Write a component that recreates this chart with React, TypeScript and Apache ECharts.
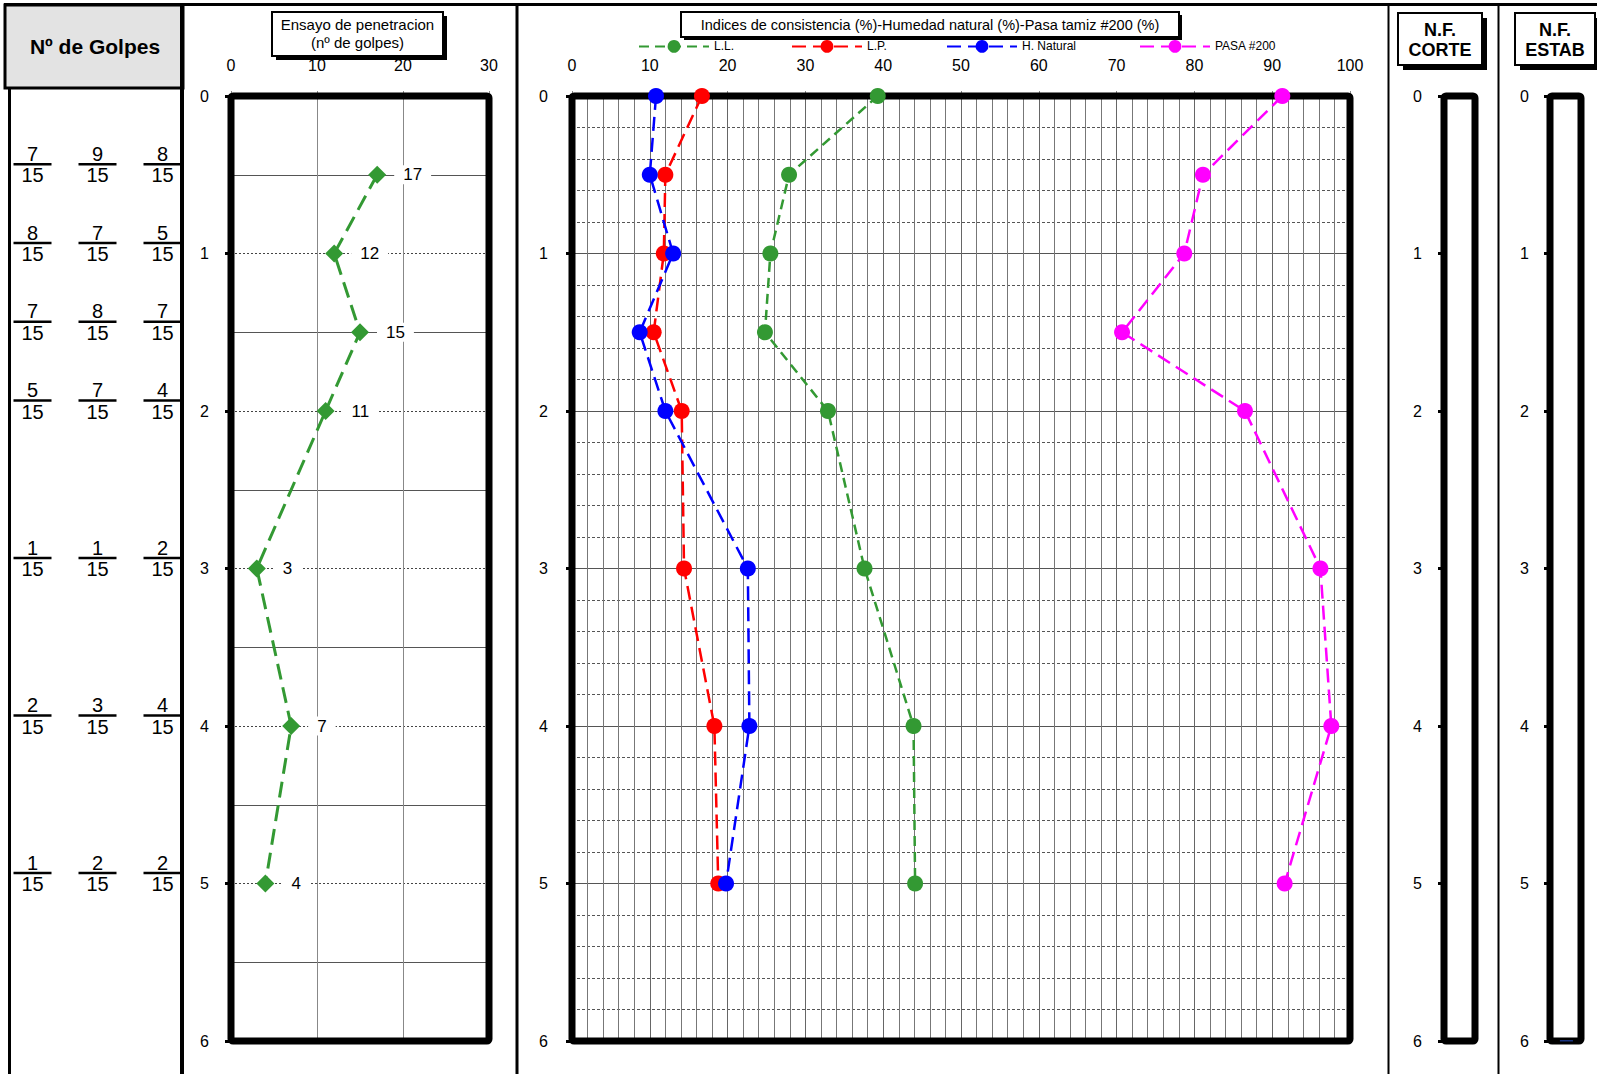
import React, { useEffect, useRef } from "react";
import * as echarts from "echarts";

// ---------- data ----------
const golpesDepths = [0.5, 1, 1.5, 2, 3, 4, 5];
const golpesCol1 = [7, 8, 7, 5, 1, 2, 1];
const golpesCol2 = [9, 7, 8, 7, 1, 3, 2];
const golpesCol3 = [8, 5, 7, 4, 2, 4, 2];
const golpesDenominator = 15;

const penDepths = [0.5, 1, 1.5, 2, 3, 4, 5];
const penValues = [17, 12, 15, 11, 3, 7, 4];

const labDepths = [0, 0.5, 1, 1.5, 2, 3, 4, 5];
const llValues = [39.3, 27.9, 25.5, 24.8, 32.9, 37.6, 43.9, 44.1];
const lpValues = [16.7, 12.0, 11.8, 10.5, 14.1, 14.4, 18.3, 18.8];
const hnValues = [10.8, 10.0, 13.0, 8.7, 12.0, 22.6, 22.8, 19.8];
const pasaValues = [91.3, 81.1, 78.7, 70.7, 86.5, 96.2, 97.6, 91.6];

const nfEstabDepth = 6;

const seriesNames = ["L.L.", "L.P.", "H. Natural", "PASA #200"];
const seriesColors = ["#339933", "#ff0000", "#0000ff", "#ff00ff"];

const FONT = "'Liberation Sans', Arial, Helvetica, sans-serif";

// ---------- layout ----------
const TOP = 96;
const H = 945;
const G_FRAC = { left: -2, width: 197 };
const G_PEN = { left: 231, width: 258 };
const G_LAB = { left: 572, width: 778 };
const G_NFC = { left: 1444, width: 31 };
const G_NFE = { left: 1550, width: 31 };
const legendLefts = [638, 791, 946, 1139];

function boxWithShadow(x: number, y: number, w: number, h: number, off: number, lines: { t: string; y: number }[], fontSize: number, bold: boolean) {
  const els: any[] = [
    { type: "rect", shape: { x: x + off, y: y + off, width: w, height: h }, style: { fill: "#000" }, z: 5 },
    { type: "rect", shape: { x, y, width: w, height: h }, style: { fill: "#fff", stroke: "#000", lineWidth: 2 }, z: 6 },
  ];
  lines.forEach((l) => {
    els.push({
      type: "text",
      z: 7,
      style: {
        text: l.t,
        x: x + w / 2,
        y: l.y,
        align: "center",
        verticalAlign: "middle",
        fontSize,
        fontWeight: bold ? "bold" : "normal",
        fontFamily: FONT,
        fill: "#000",
      },
    });
  });
  return els;
}

export default function App() {
  const ref = useRef<HTMLDivElement>(null);
  useEffect(() => {
    if (!ref.current) return;
    const chart = echarts.init(ref.current, null, { renderer: "svg" });

    const fracData: number[][] = [];
    [golpesCol1, golpesCol2, golpesCol3].forEach((col, c) => {
      col.forEach((v, i) => fracData.push([c, golpesDepths[i], v]));
    });

    const labSeries = [llValues, lpValues, hnValues, pasaValues].map((vals, k) => ({
      name: seriesNames[k],
      type: "line",
      xAxisIndex: 2,
      yAxisIndex: 2,
      data: vals.map((v, i) => [v, labDepths[i]]),
      symbol: "circle",
      symbolSize: 16,
      color: seriesColors[k],
      itemStyle: { color: seriesColors[k] },
      lineStyle: { color: seriesColors[k], width: 2.5, type: k === 0 ? [10, 6] : [14, 7] },
      z: 3,
    }));

    const yBase = (gi: number) => ({
      gridIndex: gi,
      type: "value",
      min: 0,
      max: 6,
      interval: 1,
      inverse: true,
      axisLine: { show: false },
      axisTick: { show: true, length: 6, lineStyle: { color: "#000", width: 3 } },
      axisLabel: { fontSize: 16, color: "#000", fontFamily: FONT, margin: 22 },
    });

    const borders = [G_PEN, G_LAB, G_NFC, G_NFE].map((g) => ({
      type: "rect",
      z: 1,
      silent: true,
      shape: { x: g.left, y: TOP, width: g.width, height: H, r: 2 },
      style: { fill: "none", stroke: "#000", lineWidth: 7 },
    }));

    const option: any = {
      animation: false,
      backgroundColor: "#fff",
      textStyle: { fontFamily: FONT },
      grid: [G_FRAC, G_PEN, G_LAB, G_NFC, G_NFE].map((g) => ({
        left: g.left,
        width: g.width,
        top: TOP,
        height: H,
        show: false,
      })),
      legend: seriesNames.map((n, i) => ({
        data: [n],
        left: legendLefts[i],
        top: 40,
        padding: 0,
        itemWidth: 70,
        itemHeight: 16,
        itemGap: 0,
        textStyle: { fontSize: 12, color: "#000", fontFamily: FONT },
        selectedMode: false,
      })),
      xAxis: [
        { gridIndex: 0, type: "category", data: ["1", "2", "3"], show: false },
        {
          gridIndex: 1,
          type: "value",
          min: 0,
          max: 30,
          interval: 10,
          position: "top",
          axisLine: { show: false },
          axisTick: { show: true, length: 5, lineStyle: { color: "#888" } },
          axisLabel: { fontSize: 16, color: "#000", fontFamily: FONT, margin: 23 },
          splitLine: { show: true, lineStyle: { color: "#888", width: 1 } },
        },
        {
          gridIndex: 2,
          type: "value",
          min: 0,
          max: 100,
          interval: 10,
          position: "top",
          axisLine: { show: false },
          axisTick: { show: true, length: 5, lineStyle: { color: "#888" } },
          axisLabel: { fontSize: 16, color: "#000", fontFamily: FONT, margin: 23 },
          splitLine: { show: true, lineStyle: { color: "#666", width: 1 } },
          minorTick: { show: false, splitNumber: 5 },
          minorSplitLine: { show: true, lineStyle: { color: "#777", width: 1 } },
        },
        { gridIndex: 3, type: "value", min: 0, max: 1, show: false },
        { gridIndex: 4, type: "value", min: 0, max: 1, show: false },
      ],
      yAxis: [
        { gridIndex: 0, type: "value", min: 0, max: 6, inverse: true, show: false },
        {
          ...yBase(1),
          splitLine: { show: true, lineStyle: { color: "#444", type: [2, 2], width: 1 } },
          minorTick: { show: false, splitNumber: 2 },
          minorSplitLine: { show: true, lineStyle: { color: "#555", width: 1 } },
        },
        {
          ...yBase(2),
          axisLabel: { fontSize: 16, color: "#000", fontFamily: FONT, margin: 24 },
          splitLine: { show: true, lineStyle: { color: "#555", width: 1 } },
          minorTick: { show: false, splitNumber: 5 },
          minorSplitLine: { show: true, lineStyle: { color: "#555", type: [3, 2], width: 1 } },
        },
        { ...yBase(3), splitLine: { show: false } },
        { ...yBase(4), axisLabel: { fontSize: 16, color: "#000", fontFamily: FONT, margin: 21 }, splitLine: { show: false } },
      ],
      graphic: [
        { type: "line", shape: { x1: 4, y1: 4.5, x2: 1597, y2: 4.5 }, style: { stroke: "#000", lineWidth: 3 } },
        { type: "rect", shape: { x: 5, y: 5, width: 178, height: 83 }, style: { fill: "#e3e3e3", stroke: "#000", lineWidth: 3 } },
        { type: "line", shape: { x1: 9.5, y1: 88, x2: 9.5, y2: 1074 }, style: { stroke: "#000", lineWidth: 3 } },
        { type: "line", shape: { x1: 182, y1: 4, x2: 182, y2: 1074 }, style: { stroke: "#000", lineWidth: 4 } },
        { type: "line", shape: { x1: 517, y1: 4, x2: 517, y2: 1074 }, style: { stroke: "#000", lineWidth: 3 } },
        { type: "line", shape: { x1: 1388.5, y1: 4, x2: 1388.5, y2: 1074 }, style: { stroke: "#000", lineWidth: 2 } },
        { type: "line", shape: { x1: 1498.5, y1: 4, x2: 1498.5, y2: 1074 }, style: { stroke: "#000", lineWidth: 2 } },
        {
          type: "text",
          style: { text: "Nº de Golpes", x: 95, y: 46, align: "center", verticalAlign: "middle", fontSize: 21, fontWeight: "bold", fontFamily: FONT, fill: "#000" },
        },
        ...boxWithShadow(272, 12, 171, 44, 4, [
          { t: "Ensayo de penetracion", y: 24 },
          { t: "(nº de golpes)", y: 42 },
        ], 15, false),
        ...boxWithShadow(681, 12, 498, 25, 3, [
          { t: "Indices de consistencia (%)-Humedad natural (%)-Pasa tamiz #200 (%)", y: 24.5 },
        ], 14.5, false),
        ...boxWithShadow(1398, 13, 84, 52, 5, [
          { t: "N.F.", y: 30 },
          { t: "CORTE", y: 50 },
        ], 18, true),
        ...boxWithShadow(1515, 13, 80, 52, 5, [
          { t: "N.F.", y: 30 },
          { t: "ESTAB", y: 50 },
        ], 18, true),
        ...borders,
      ],
      series: [
        {
          type: "custom",
          xAxisIndex: 0,
          yAxisIndex: 0,
          data: fracData,
          silent: true,
          renderItem: (params: any, api: any) => {
            const p = api.coord([api.value(0), api.value(1)]);
            const num = api.value(2);
            return {
              type: "group",
              children: [
                {
                  type: "text",
                  style: { text: String(num), x: p[0], y: p[1] - 21, align: "center", verticalAlign: "middle", fontSize: 20, fontFamily: FONT, fill: "#000" },
                },
                {
                  type: "line",
                  shape: { x1: p[0] - 19, y1: p[1] - 10.5, x2: p[0] + 19, y2: p[1] - 10.5 },
                  style: { stroke: "#000", lineWidth: 2.3 },
                },
                {
                  type: "text",
                  style: { text: String(golpesDenominator), x: p[0], y: p[1] + 0.5, align: "center", verticalAlign: "middle", fontSize: 20, fontFamily: FONT, fill: "#000" },
                },
              ],
            };
          },
        },
        {
          name: "Penetracion",
          type: "line",
          xAxisIndex: 1,
          yAxisIndex: 1,
          data: penValues.map((v, i) => [v, penDepths[i]]),
          symbol: "diamond",
          symbolSize: 18,
          itemStyle: { color: "#339933" },
          lineStyle: { color: "#339933", width: 3, type: [16, 8] },
          label: {
            show: true,
            position: "right",
            distance: 8,
            formatter: (p: any) => String(p.value[0]),
            fontSize: 17,
            color: "#000",
            fontFamily: FONT,
            backgroundColor: "#fff",
            padding: [1, 9],
          },
          z: 3,
        },
        ...labSeries,
        {
          name: "NF estab",
          type: "line",
          xAxisIndex: 4,
          yAxisIndex: 4,
          data: [[0.32, nfEstabDepth], [0.74, nfEstabDepth]],
          symbol: "none",
          lineStyle: { color: "#3366ff", width: 1 },
          z: 3,
        },
      ],
    };
    chart.setOption(option);
    return () => chart.dispose();
  }, []);
  return <div ref={ref} style={{ position: "absolute", left: 0, top: 0, width: 1597, height: 1074 }} />;
}
